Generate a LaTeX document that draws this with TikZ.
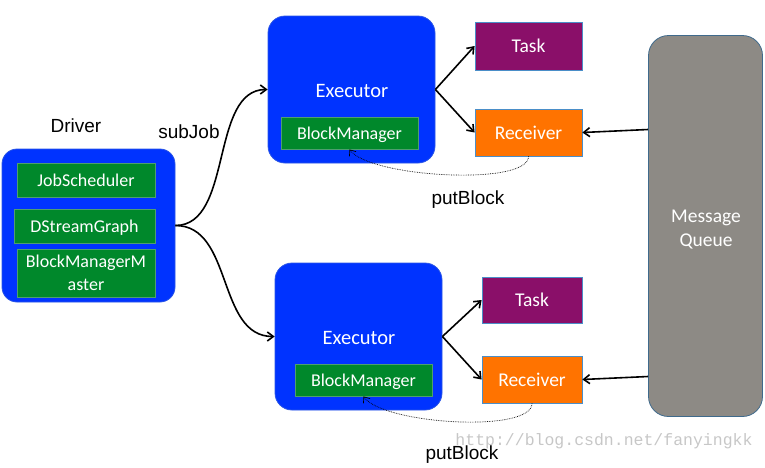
\documentclass[tikz,border=0pt]{standalone}
\usepackage{fontspec}
\setmainfont{Carlito}
\newfontfamily\arialf{Liberation Sans}
\newfontfamily\monof{Liberation Mono}
\usetikzlibrary{arrows.meta,calc}
\definecolor{exblue}{HTML}{0033FF}
\definecolor{exedge}{HTML}{2A55E6}
\definecolor{bmgreen}{HTML}{00882B}
\definecolor{bmedge}{HTML}{4E9E70}
\definecolor{taskpur}{HTML}{8A0F69}
\definecolor{recor}{HTML}{FF7300}
\definecolor{boxedge}{HTML}{4A8EC8}
\definecolor{mqgray}{HTML}{8D8A85}
\definecolor{mqedge}{HTML}{3F6A8C}
\begin{document}
\begin{tikzpicture}[x=1pt,y=-1pt,
  bigbox/.style={draw=exedge,fill=exblue,line width=0.8pt,rounded corners=17pt,inner sep=0pt,text=white,font=\fontsize{19.5}{23}\selectfont},
  greenbox/.style={draw=bmedge,fill=bmgreen,line width=0.8pt,inner sep=0pt,text=white,align=center,font=\fontsize{18}{23}\selectfont},
  onel/.style={text depth=0pt},
  colbox/.style={draw=boxedge,line width=0.8pt,inner sep=0pt,text=white,text depth=0pt,font=\fontsize{19.5}{23}\selectfont},
  lbl/.style={inner sep=0pt,font=\arialf\fontsize{19}{23}\selectfont},
  arr/.style={-{Straight Barb[length=6pt,width=9pt]},line width=1.6pt},
  dotarr/.style={-{Straight Barb[length=5pt,width=8pt]},line width=0.7pt,densely dotted}]
\useasboundingbox (0,0) rectangle (765,467);
% Driver
\node[bigbox,rounded corners=15pt,minimum width=173pt,minimum height=153pt] (driver) at (88.5,225.5) {};
\node[greenbox,onel,minimum width=138pt,minimum height=34pt] (js) at (86,180) {JobScheduler};
\node[greenbox,onel,minimum width=141pt,minimum height=34pt] (dsg) at (84.5,226) {DStreamGraph};
\node[greenbox,minimum width=138pt,minimum height=48pt] (bmm) at (86,273) {BlockManagerM\\aster};
\node[lbl] (drvl) at (76,126) {Driver};
% Executor 1
\node[bigbox,minimum width=167pt,minimum height=147pt] (ex1) at (351.5,89.5) {};
\node[text=white,inner sep=0pt,font=\fontsize{20.5}{23}\selectfont] (ex1l) at (352,91) {Executor};
\node[greenbox,onel,minimum width=137pt,minimum height=32pt] (bm1) at (349.5,133) {BlockManager};
\node[colbox,fill=taskpur,minimum width=107pt,minimum height=48pt] (task1) at (528.5,46) {Task};
\node[colbox,fill=recor,minimum width=107pt,minimum height=47pt] (rec1) at (528.5,132.5) {Receiver};
% Executor 2
\node[bigbox,minimum width=167pt,minimum height=147pt] (ex2) at (358.5,336.5) {};
\node[text=white,inner sep=0pt,font=\fontsize{20.5}{23}\selectfont] (ex2l) at (359,338) {Executor};
\node[greenbox,onel,minimum width=137pt,minimum height=32pt] (bm2) at (363.5,380) {BlockManager};
\node[colbox,fill=taskpur,minimum width=100pt,minimum height=46pt] (task2) at (532,300) {Task};
\node[colbox,fill=recor,minimum width=100pt,minimum height=47pt] (rec2) at (532,379.5) {Receiver};
% Message queue
\node[draw=mqedge,fill=mqgray,line width=0.8pt,rounded corners=20pt,minimum width=114pt,minimum height=381pt,inner sep=0pt] (mq) at (705.5,226) {};
\node[text=white,align=center,inner sep=0pt,font=\fontsize{19.5}{24}\selectfont] (mql) at (706,230) {Message\\Queue};
% labels
\node[lbl] (sub) at (189,132) {subJob};
\node[lbl] (pb1) at (468,200) {putBlock};
\node[text=black!22,inner sep=0pt,font=\monof\fontsize{16.5}{20}\selectfont] (wm) at (604,441) {http://blog.csdn.net/fanyingkk};
\node[lbl] (pb2) at (462,455) {putBlock};
% connectors
\draw[arr] (driver.east) .. controls +(58,0) and +(-58,0) .. (ex1.west);
\draw[arr] (driver.east) .. controls +(58,0) and +(-58,0) .. (ex2.west);
\draw[arr] (ex1.east) -- (task1.west);
\draw[arr] (ex1.east) -- (rec1.west);
\draw[arr] (ex2.east) -- (task2.west);
\draw[arr] (ex2.east) -- (rec2.west);
\draw[arr] ($(mq.west|-rec1.east)+(0,-3)$) -- (rec1.east);
\draw[arr] ($(mq.west|-rec2.east)+(0,-3)$) -- (rec2.east);
\draw[dotarr] (rec1.south) .. controls +(0,30) and +(20,28) .. (bm1.south);
\draw[dotarr] (rec2.south) .. controls +(0,30) and +(20,28) .. (bm2.south);
\end{tikzpicture}
\end{document}
